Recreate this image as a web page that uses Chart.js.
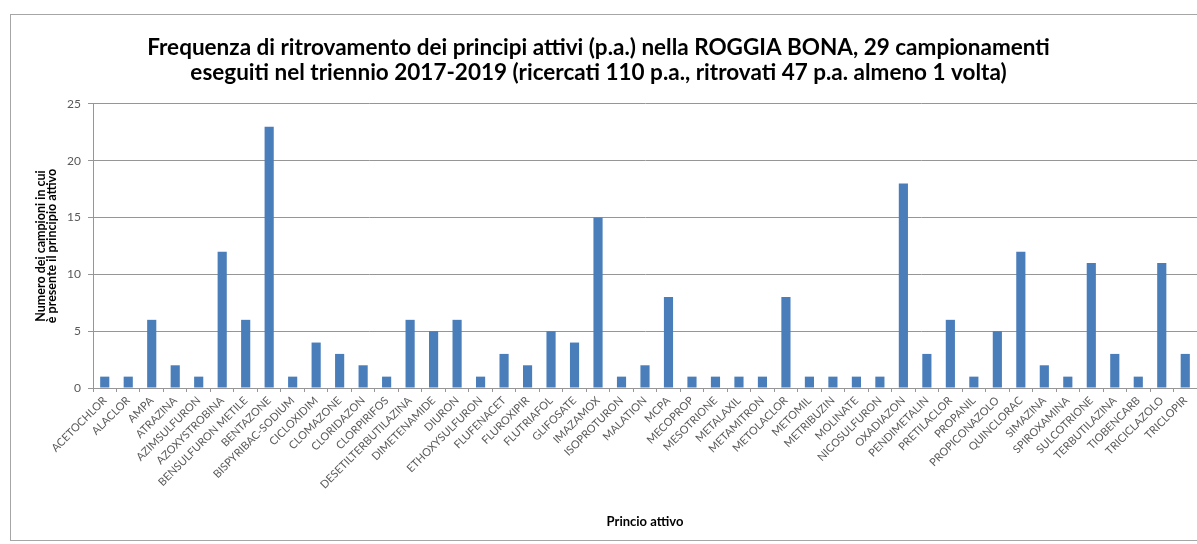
<!DOCTYPE html>
<html>
<head>
<meta charset="utf-8">
<script src="https://cdn.jsdelivr.net/npm/chart.js@4/dist/chart.umd.min.js"></script>
<style>
  html, body { margin: 0; padding: 0; background: #fff; }
  #wrap { width: 1197px; height: 544px; }
</style>
</head>
<body>
<div id="wrap"><canvas id="myChart" width="1197" height="544"></canvas></div>
<script>
// principi attivi ricercati e numero di campioni positivi
const principi = ['ACETOCHLOR', 'ALACLOR', 'AMPA', 'ATRAZINA', 'AZIMSULFURON', 'AZOXYSTROBINA',
  'BENSULFURON METILE', 'BENTAZONE', 'BISPYRIBAC-SODIUM', 'CICLOXIDIM', 'CLOMAZONE', 'CLORIDAZON',
  'CLORPIRIFOS', 'DESETILTERBUTILAZINA', 'DIMETENAMIDE', 'DIURON', 'ETHOXYSULFURON', 'FLUFENACET',
  'FLUROXIPIR', 'FLUTRIAFOL', 'GLIFOSATE', 'IMAZAMOX', 'ISOPROTURON', 'MALATION', 'MCPA', 'MECOPROP',
  'MESOTRIONE', 'METALAXIL', 'METAMITRON', 'METOLACLOR', 'METOMIL', 'METRIBUZIN', 'MOLINATE',
  'NICOSULFURON', 'OXADIAZON', 'PENDIMETALIN', 'PRETILACLOR', 'PROPANIL', 'PROPICONAZOLO',
  'QUINCLORAC', 'SIMAZINA', 'SPIROXAMINA', 'SULCOTRIONE', 'TERBUTILAZINA', 'TIOBENCARB',
  'TRICICLAZOLO', 'TRICLOPIR'];

const campioni = [1, 1, 6, 2, 1, 12, 6, 23, 1, 4, 3, 2, 1, 6, 5, 6, 1, 3, 2, 5, 4, 15, 1, 2, 8, 1,
  1, 1, 1, 8, 1, 1, 1, 1, 18, 3, 6, 1, 5, 12, 2, 1, 11, 3, 1, 11, 3];

const yTicks = [0, 5, 10, 15, 20, 25];

const titolo = ['Frequenza di ritrovamento dei principi attivi (p.a.) nella ROGGIA BONA, 29 campionamenti',
  'eseguiti nel triennio 2017-2019 (ricercati 110 p.a., ritrovati 47 p.a. almeno 1 volta)'];

const grigio = '#969696';
const testo = '#595959';

// cornice del grafico
const cornice = {
  id: 'cornice',
  beforeDraw(chart) {
    const c = chart.ctx;
    c.save();
    c.fillStyle = '#fff';
    c.fillRect(0, 0, chart.width, chart.height);
    c.strokeStyle = '#a6a6a6';
    c.lineWidth = 1;
    c.strokeRect(10.5, 14.5, 1300, 526);
    c.restore();
  }
};

const ctx = document.getElementById('myChart');

new Chart(ctx, {
  type: 'bar',
  data: {
    labels: principi,
    datasets: [{
      data: campioni,
      backgroundColor: '#4A7EBB',
      barPercentage: 0.39,
      categoryPercentage: 1
    }]
  },
  plugins: [cornice],
  options: {
    responsive: false,
    animation: false,
    layout: { padding: { top: 14, left: 0, right: 0, bottom: 10 } },
    plugins: {
      legend: { display: false },
      tooltip: { enabled: false },
      title: {
        display: true,
        text: titolo,
        color: '#000',
        font: { family: 'Lato', size: 22.5, weight: 'bold', lineHeight: 1.11 },
        padding: { top: 21, bottom: 19 }
      }
    },
    scales: {
      x: {
        afterFit(scale) { scale.height = 146; },
        grid: { drawOnChartArea: false, drawTicks: true, tickLength: 4, color: grigio },
        border: { color: grigio },
        ticks: {
          autoSkip: false,
          minRotation: 45,
          maxRotation: 45,
          padding: 2,
          color: testo,
          font: { family: 'Lato', size: 11 }
        },
        title: {
          display: true,
          text: 'Princio attivo',
          color: '#000',
          font: { family: 'Lato', size: 13, weight: 'bold' },
          padding: { top: 4, bottom: 4 }
        }
      },
      y: {
        min: 0,
        max: 25,
        afterFit(scale) { scale.width = 93; },
        afterBuildTicks(scale) { scale.ticks = yTicks.map(v => ({ value: v })); },
        grid: { color: grigio, tickLength: 5 },
        border: { color: grigio },
        ticks: {
          padding: 7,
          color: testo,
          font: { family: 'Lato', size: 12 }
        },
        title: {
          display: true,
          text: ['Numero dei campioni in cui', 'è presente il principio attivo'],
          color: '#000',
          font: { family: 'Lato', size: 12.5, weight: 'bold', lineHeight: 0.9 },
          padding: { top: 35, bottom: 4 }
        }
      }
    }
  }
});
</script>
</body>
</html>
